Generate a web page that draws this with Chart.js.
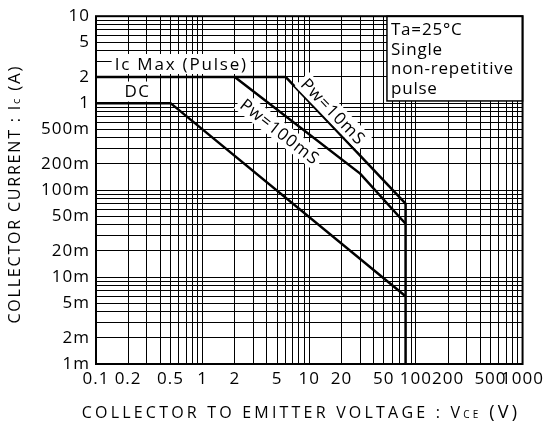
<!DOCTYPE html>
<html>
<head>
<meta charset="utf-8">
<script src="https://cdn.jsdelivr.net/npm/chart.js@4.4.1/dist/chart.umd.min.js"></script>
<style>
  html, body { margin: 0; padding: 0; background: #fff; }
  #wrap { width: 547px; height: 425px; }
</style>
</head>
<body>
<div id="wrap"><canvas id="soa" width="547" height="425"></canvas></div>
<script>
// tick labels (the rest of the decade lines are only grid)
const xTickLabels = [0.1, 0.2, 0.5, 1, 2, 5, 10, 20, 50, 100, 200, 500, 1000];
const yTickLabels = [0.001, 0.002, 0.005, 0.01, 0.02, 0.05, 0.1, 0.2, 0.5, 1, 2, 5, 10];

// curves: Vce [V] / Ic [A]
const icMaxVce = [0.1, 6];
const icMaxIc = [2, 2];
const pw10Vce = [6, 80];
const pw10Ic = [2, 0.07];
const pw100Vce = [2, 30, 80];
const pw100Ic = [2, 0.155, 0.041];
const dcVce = [0.1, 0.5, 80];
const dcIc = [1, 1, 0.006];
const vceMaxVce = [80, 80];
const vceMaxIc = [0.07, 0.001];

const FONT = "'Open Sans', 'Noto Sans', sans-serif";

function pts(xs, ys) {
    return xs.map((v, i) => ({ x: v, y: ys[i] }));
}

// 1..9 lines in every decade between min and max
function decadeLines(min, max) {
    let out = [];
    for (let d = min; d < max * 0.999; d *= 10) {
        for (let k = 1; k <= 9; k++) {
            out.push({ value: Number((k * d).toPrecision(3)) });
        }
    }
    out.push({ value: max });
    return out;
}

function isLabel(list, v) {
    return list.some(t => Math.abs(t - v) / t < 1e-6);
}

function fmtCurrent(v) {
    if (v >= 1) return String(v);
    return Math.round(v * 1000) + 'm';
}

function line(label, data) {
    return {
        label: label,
        data: data,
        borderColor: '#000',
        borderWidth: 2.5,
        pointRadius: 0,
        fill: false,
        tension: 0,
        showLine: true
    };
}

// text put on the plot, positions in data units
const notes = [
    { text: 'Ic Max (Pulse)', x: 0.63, y: 2.82, angle: 0, spacing: 1.8 },
    { text: 'DC', x: 0.245, y: 1.36, angle: 0, spacing: 1.5 },
    { text: 'Pw=100mS', x: 5.3, y: 0.47, angle: 38, spacing: 1 },
    { text: 'Pw=10mS', x: 16.8, y: 0.8, angle: 46, spacing: 1 }
];
const boxLines = ['Ta=25°C', 'Single', 'non-repetitive', 'pulse'];

// draws text in pieces with different sizes, centred on 0,0
function drawParts(ctx, parts, spacing) {
    ctx.letterSpacing = spacing + 'px';
    let total = 0;
    parts.forEach(p => {
        ctx.font = p[1] + 'px ' + FONT;
        p.w = ctx.measureText(p[0]).width;
        total += p.w;
    });
    let x = -total / 2;
    ctx.textAlign = 'left';
    ctx.textBaseline = 'alphabetic';
    parts.forEach(p => {
        ctx.font = p[1] + 'px ' + FONT;
        ctx.fillText(p[0], x, p[2] || 0);
        x += p.w;
    });
}

const decorPlugin = {
    id: 'decor',
    beforeDraw(chart) {
        // the tick labels of the original are widely spaced
        chart.ctx.letterSpacing = '1px';
    },
    afterDatasetsDraw(chart) {
        const ctx = chart.ctx;
        const area = chart.chartArea;
        const xs = chart.scales.x;
        const ys = chart.scales.y;

        ctx.save();
        ctx.fillStyle = '#000';

        // labels with white behind them
        ctx.font = '17px ' + FONT;
        notes.forEach(n => {
            ctx.letterSpacing = n.spacing + 'px';
            const px = xs.getPixelForValue(n.x);
            const py = ys.getPixelForValue(n.y);
            const w = ctx.measureText(n.text).width;
            ctx.save();
            ctx.translate(px, py);
            ctx.rotate(n.angle * Math.PI / 180);
            ctx.fillStyle = '#fff';
            ctx.fillRect(-w / 2 - 3, -10, w + 6, 20);
            ctx.fillStyle = '#000';
            ctx.textAlign = 'center';
            ctx.textBaseline = 'middle';
            ctx.fillText(n.text, 0, 1);
            ctx.restore();
        });

        // condition box, top right
        const bx = xs.getPixelForValue(53.5);
        const by = area.top;
        const bw = area.right - bx;
        const bh = ys.getPixelForValue(1.06) - by;
        ctx.fillStyle = '#fff';
        ctx.fillRect(bx, by, bw, bh);
        ctx.strokeStyle = '#000';
        ctx.lineWidth = 1.5;
        ctx.strokeRect(bx, by, bw, bh);
        ctx.fillStyle = '#000';
        ctx.textAlign = 'left';
        ctx.textBaseline = 'middle';
        ctx.font = '17px ' + FONT;
        ctx.letterSpacing = '0.8px';
        boxLines.forEach((t, i) => {
            ctx.fillText(t, bx + 4, by + 14 + i * 19.6);
        });

        // frame
        ctx.lineWidth = 2;
        ctx.strokeRect(area.left, area.top, area.right - area.left, area.bottom - area.top);

        // axis titles
        ctx.save();
        ctx.translate(20, (area.top + area.bottom) / 2 + 4);
        ctx.rotate(-Math.PI / 2);
        drawParts(ctx, [['COLLECTOR CURRENT : I', 16], ['c', 11], [' (A)', 17]], 1.8);
        ctx.restore();

        ctx.save();
        ctx.translate(301, 418);
        drawParts(ctx, [['COLLECTOR TO EMITTER VOLTAGE : V', 16], ['CE', 10], [' (V)', 18]], 3.2);
        ctx.restore();

        ctx.restore();
    },
    afterDraw(chart) {
        chart.ctx.letterSpacing = '0px';
    }
};

const ctx = document.getElementById('soa').getContext('2d');
const chart = new Chart(ctx, {
    type: 'line',
    data: {
        datasets: [
            line('Ic Max', pts(icMaxVce, icMaxIc)),
            line('Pw=10mS', pts(pw10Vce, pw10Ic)),
            line('Pw=100mS', pts(pw100Vce, pw100Ic)),
            line('DC', pts(dcVce, dcIc)),
            line('Vce max', pts(vceMaxVce, vceMaxIc))
        ]
    },
    options: {
        responsive: false,
        animation: false,
        layout: { padding: { top: 15, right: 23, left: 0, bottom: 0 } },
        plugins: { legend: { display: false }, tooltip: { enabled: false } },
        scales: {
            x: {
                type: 'logarithmic',
                min: 0.1,
                max: 1000,
                afterBuildTicks: s => { s.ticks = decadeLines(0.1, 1000); },
                afterFit: s => { s.height = 61; },
                grid: { color: '#000', lineWidth: 1, drawTicks: false },
                border: { display: false },
                ticks: {
                    autoSkip: false,
                    maxRotation: 0,
                    padding: 5,
                    color: '#000',
                    font: { family: FONT, size: 17 },
                    callback: v => isLabel(xTickLabels, v) ? String(v) : ''
                }
            },
            y: {
                type: 'logarithmic',
                min: 0.001,
                max: 10,
                afterBuildTicks: s => { s.ticks = decadeLines(0.001, 10); },
                afterFit: s => { s.width = 96; },
                grid: { color: '#000', lineWidth: 1, drawTicks: false },
                border: { display: false },
                ticks: {
                    autoSkip: false,
                    padding: 6,
                    color: '#000',
                    font: { family: FONT, size: 17 },
                    callback: v => isLabel(yTickLabels, v) ? fmtCurrent(v) : ''
                }
            }
        }
    },
    plugins: [decorPlugin]
});
</script>
</body>
</html>
